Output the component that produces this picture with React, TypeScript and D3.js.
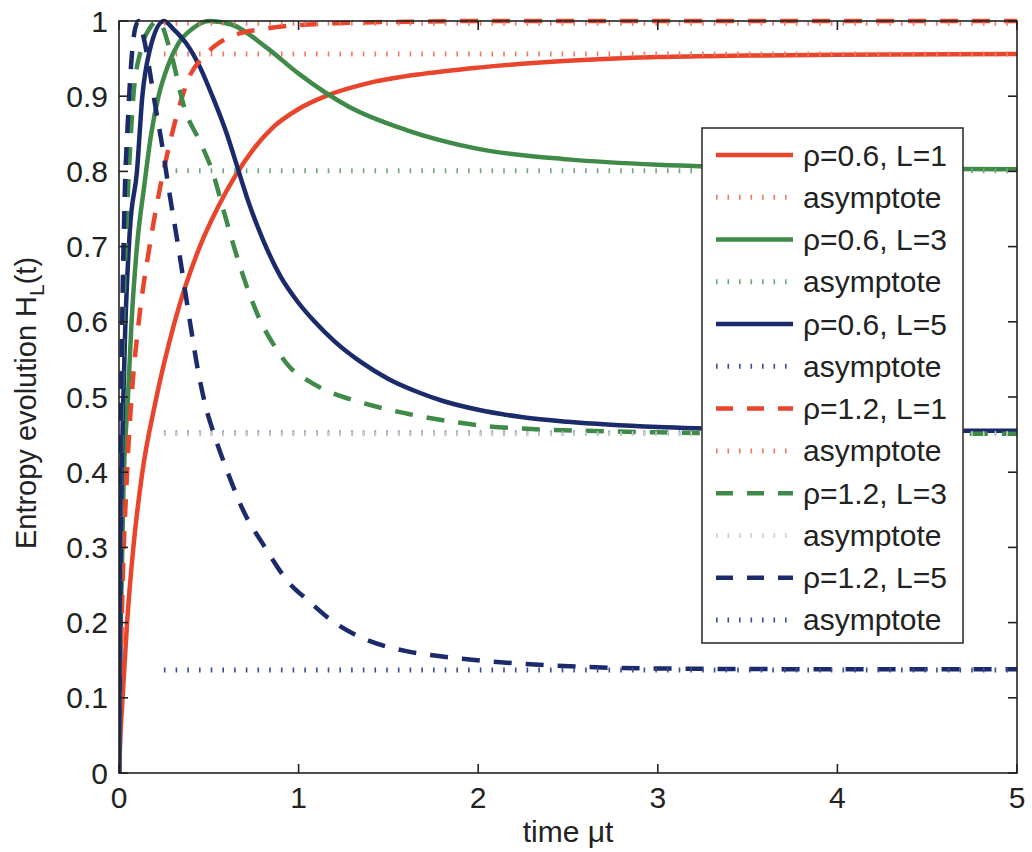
import React from "react";
import * as d3 from "d3";

// ---------- data ----------
const xTicks = [0, 1, 2, 3, 4, 5];
const yTicks = [0, 0.1, 0.2, 0.3, 0.4, 0.5, 0.6, 0.7, 0.8, 0.9, 1];
const yTickLabels = ["0", "0.1", "0.2", "0.3", "0.4", "0.5", "0.6", "0.7", "0.8", "0.9", "1"];

const legendLabels = [
  "ρ=0.6, L=1", "asymptote",
  "ρ=0.6, L=3", "asymptote",
  "ρ=0.6, L=5", "asymptote",
  "ρ=1.2, L=1", "asymptote",
  "ρ=1.2, L=3", "asymptote",
  "ρ=1.2, L=5", "asymptote",
];

// ρ=0.6, L=1
const tA = [0, 0.01, 0.02, 0.045, 0.08, 0.13, 0.2, 0.31, 0.45, 0.55, 0.65, 0.75, 0.85, 1.0, 1.15, 1.4, 1.7, 2, 2.5, 3, 3.5, 4, 5];
const vA = [0, 0.06, 0.1, 0.2, 0.3, 0.4, 0.49, 0.6, 0.7, 0.752, 0.795, 0.83, 0.857, 0.883, 0.9, 0.918, 0.93, 0.938, 0.947, 0.952, 0.954, 0.955, 0.956];
// ρ=0.6, L=3
const tB = [0, 0.01, 0.025, 0.05, 0.07, 0.1, 0.14, 0.18, 0.22, 0.27, 0.33, 0.41, 0.5, 0.63, 0.82, 1.0, 1.28, 1.6, 2, 2.5, 3, 4, 5];
const vB = [0, 0.2, 0.38, 0.5, 0.6, 0.7, 0.78, 0.851, 0.9, 0.939, 0.97, 0.99, 1.0, 0.995, 0.965, 0.93, 0.886, 0.855, 0.83, 0.816, 0.809, 0.804, 0.803];
// ρ=0.6, L=5
const tC = [0, 0.01, 0.03, 0.06, 0.1, 0.13, 0.17, 0.25, 0.3, 0.375, 0.45, 0.52, 0.6, 0.66, 0.72, 0.8, 0.9, 1.0, 1.09, 1.2, 1.35, 1.5, 1.67, 1.8, 2, 2.25, 2.5, 3, 3.5, 4, 5];
const vC = [0, 0.3, 0.55, 0.72, 0.8, 0.9, 0.96, 1.0, 0.99, 0.97, 0.939, 0.9, 0.85, 0.805, 0.76, 0.71, 0.66, 0.625, 0.6, 0.574, 0.546, 0.524, 0.506, 0.495, 0.483, 0.473, 0.467, 0.46, 0.457, 0.456, 0.455];
// ρ=1.2, L=1
const tD = [0, 0.015, 0.045, 0.07, 0.11, 0.17, 0.23, 0.29, 0.34, 0.4, 0.46, 0.54, 0.63, 0.82, 1.2, 1.6, 2, 3, 5];
const vD = [0, 0.2, 0.4, 0.5, 0.6, 0.7, 0.78, 0.845, 0.89, 0.93, 0.95, 0.968, 0.98, 0.99, 0.997, 0.999, 1, 1, 1];
// ρ=1.2, L=3
const tE = [0, 0.008, 0.02, 0.04, 0.055, 0.08, 0.12, 0.17, 0.22, 0.28, 0.37, 0.45, 0.52, 0.58, 0.64, 0.71, 0.78, 0.86, 0.95, 1.05, 1.17, 1.3, 1.42, 1.62, 1.86, 2.06, 2.25, 2.6, 3, 4, 5];
const vE = [0, 0.3, 0.55, 0.72, 0.8, 0.9, 0.96, 0.99, 1.0, 0.965, 0.88, 0.84, 0.8, 0.75, 0.7, 0.648, 0.605, 0.57, 0.54, 0.522, 0.507, 0.496, 0.488, 0.477, 0.467, 0.461, 0.458, 0.455, 0.453, 0.451, 0.451];
// ρ=1.2, L=5
const tF = [0, 0.005, 0.015, 0.03, 0.05, 0.07, 0.09, 0.11, 0.14, 0.17, 0.2, 0.24, 0.275, 0.33, 0.395, 0.44, 0.48, 0.53, 0.6, 0.7, 0.8, 0.95, 1.05, 1.2, 1.35, 1.6, 1.8, 2.2, 2.6, 3, 4, 5];
const vF = [0, 0.3, 0.55, 0.75, 0.87, 0.95, 0.99, 1.0, 0.975, 0.935, 0.89, 0.835, 0.78, 0.7, 0.6, 0.535, 0.49, 0.45, 0.403, 0.345, 0.305, 0.252, 0.23, 0.2, 0.18, 0.162, 0.155, 0.146, 0.141, 0.139, 0.138, 0.138];

// asymptotes (value, start, end)
const asymValues = [0.956, 0.801, 0.452, 0.997, 0.451, 0.137];
const asymRange = [0.25, 5];

// ---------- styles ----------
const RED = "#e8452c";
const GREEN = "#3f8a48";
const NAVY = "#1b2a6b";

const seriesStyle = [
  { color: RED, dash: null },
  { color: GREEN, dash: null },
  { color: NAVY, dash: null },
  { color: RED, dash: "18 14" },
  { color: GREEN, dash: "18 14" },
  { color: NAVY, dash: "18 14" },
];
const asymColors = ["#ef7a64", "#6fa67a", "#3a4a9c", "#ef7a64", "#c9d2c9", "#3a4a9c"];

const seriesT = [tA, tB, tC, tD, tE, tF];
const seriesV = [vA, vB, vC, vD, vE, vF];

const FONT = "'Liberation Sans', Arial, Helvetica, sans-serif";

export default function App() {
  const W = 1032, H = 852;
  const x0 = 119, x1 = 1017, y0 = 773, y1 = 21;
  const x = d3.scaleLinear().domain([0, 5]).range([x0, x1]);
  const y = d3.scaleLinear().domain([0, 1]).range([y0, y1]);
  const line = d3
    .line<[number, number]>()
    .x((d) => x(d[0]))
    .y((d) => y(d[1]))
    .curve(d3.curveMonotoneX);

  const tickLen = 9;
  const legX = 702, legY = 128, legW = 261, legH = 515;
  const rowY0 = 155, rowStep = 42.27;

  const drawOrder: JSX.Element[] = [];
  seriesT.forEach((ts, i) => {
    const pts: [number, number][] = ts.map((t, k) => [t, seriesV[i][k]]);
    drawOrder.push(
      <path
        key={"s" + i}
        d={line(pts) || ""}
        fill="none"
        stroke={seriesStyle[i].color}
        strokeWidth={4.5}
        strokeLinejoin="round"
        strokeDasharray={seriesStyle[i].dash || undefined}
      />
    );
    const av = asymValues[i];
    drawOrder.push(
      <line
        key={"a" + i}
        x1={x(asymRange[0])}
        x2={x(asymRange[1])}
        y1={y(av)}
        y2={y(av)}
        stroke={asymColors[i]}
        strokeWidth={5}
        strokeDasharray="1.6 10.1"
      />
    );
  });

  return (
    <svg width={W} height={H} style={{ position: "absolute", left: 0, top: 0, background: "#fff" }}>
      <rect x={0} y={0} width={W} height={H} fill="#fff" />
      <defs>
        <clipPath id="plotclip">
          <rect x={x0} y={y1 - 3} width={x1 - x0} height={y0 - y1 + 3} />
        </clipPath>
      </defs>
      <g clipPath="url(#plotclip)">{drawOrder}</g>

      {/* axes box */}
      <rect x={x0} y={y1} width={x1 - x0} height={y0 - y1} fill="none" stroke="#222" strokeWidth={1.6} />
      {xTicks.map((t) => (
        <g key={"xt" + t}>
          <line x1={x(t)} x2={x(t)} y1={y0} y2={y0 - tickLen} stroke="#222" strokeWidth={1.6} />
          <line x1={x(t)} x2={x(t)} y1={y1} y2={y1 + tickLen} stroke="#222" strokeWidth={1.6} />
          <text x={x(t)} y={808} textAnchor="middle" fontFamily={FONT} fontSize={30} fill="#222">
            {t}
          </text>
        </g>
      ))}
      {yTicks.map((v, i) => (
        <g key={"yt" + i}>
          <line x1={x0} x2={x0 + tickLen} y1={y(v)} y2={y(v)} stroke="#222" strokeWidth={1.6} />
          <line x1={x1} x2={x1 - tickLen} y1={y(v)} y2={y(v)} stroke="#222" strokeWidth={1.6} />
          <text x={108} y={y(v) + 10.5} textAnchor="end" fontFamily={FONT} fontSize={30} fill="#222">
            {yTickLabels[i]}
          </text>
        </g>
      ))}

      {/* axis labels */}
      <text x={(x0 + x1) / 2} y={842} textAnchor="middle" fontFamily={FONT} fontSize={30} fill="#222">
        time μt
      </text>
      <text
        transform={`translate(36, ${403}) rotate(-90)`}
        textAnchor="middle"
        fontFamily={FONT}
        fontSize={29}
        fill="#222"
      >
        Entropy evolution H
        <tspan fontSize={21} dy={8}>L</tspan>
        <tspan dy={-8}>(t)</tspan>
      </text>

      {/* legend */}
      <rect x={legX} y={legY} width={legW} height={legH} fill="#fff" stroke="#333" strokeWidth={1.6} />
      {legendLabels.map((lab, i) => {
        const ry = rowY0 + i * rowStep;
        const s = Math.floor(i / 2);
        const isAsym = i % 2 === 1;
        return (
          <g key={"lg" + i}>
            {isAsym ? (
              <line
                x1={716}
                x2={794}
                y1={ry}
                y2={ry}
                stroke={asymColors[s]}
                strokeWidth={5}
                strokeDasharray="1.6 9.9"
              />
            ) : (
              <line
                x1={716}
                x2={793}
                y1={ry}
                y2={ry}
                stroke={seriesStyle[s].color}
                strokeWidth={4.5}
                strokeDasharray={seriesStyle[s].dash ? "17 14" : undefined}
              />
            )}
            <text x={803} y={ry + 10.5} fontFamily={FONT} fontSize={30} fill="#222">
              {lab}
            </text>
          </g>
        );
      })}
    </svg>
  );
}
